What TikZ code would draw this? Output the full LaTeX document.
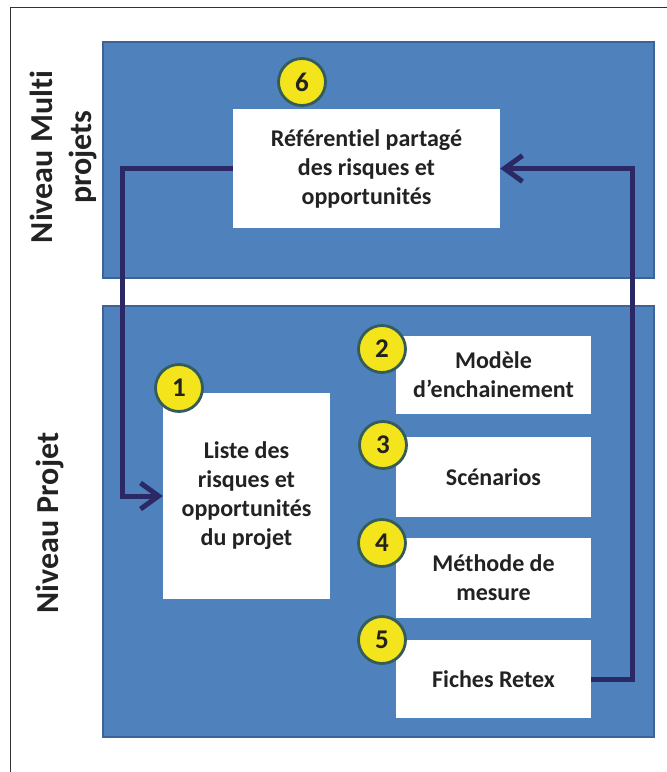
\documentclass[tikz,border=0pt]{standalone}
\usepackage{fontspec}
\setmainfont{Carlito}[Ligatures=NoCommon]
\usetikzlibrary{arrows.meta}
\definecolor{blueA}{HTML}{4F81BD}
\definecolor{blueB}{HTML}{3C6498}
\definecolor{arrC}{HTML}{2B2866}
\definecolor{yelC}{HTML}{F4E41C}
\definecolor{ringC}{HTML}{345C58}
\definecolor{txtC}{HTML}{222222}
\tikzset{
  panel/.style={fill=blueA, draw=blueB, line width=1.5pt},
  wbox/.style={fill=white, draw=none, inner sep=0pt, align=center, text=txtC,
    font=\bfseries\fontsize{24}{29}\selectfont},
  badge/.style={circle, fill=yelC, draw=ringC, line width=2.8pt, minimum size=47pt,
    inner sep=0pt, text=txtC, font=\bfseries\fontsize{27}{27}\selectfont},
  levlabel/.style={rotate=90, align=center, text=txtC, font=\bfseries\fontsize{32}{39}\selectfont},
  conn/.style={draw=arrC, line width=5pt, -{Straight Barb[length=18pt,width=26pt]}}
}
\begin{document}
\begin{tikzpicture}[x=1pt,y=-1pt]
\useasboundingbox (0,0) rectangle (667,772);
\fill[white] (0,0) rectangle (667,772);
% outer frame (only left and top edges visible)
\draw[draw=black!80, line width=1.3pt] (10.5,772) -- (10.5,7.5) -- (667,7.5);
% panels
\draw[panel] (103,42) rectangle (654,278);
\draw[panel] (103,306) rectangle (654,737);
% level labels
\node[levlabel] (lm) at (63,157) {Niveau Multi\\projets};
\node[levlabel] (lp) at (50,523) {Niveau Projet};
% boxes
\node[wbox, minimum width=267pt, minimum height=119pt] (b6) at (366.5,168.5) {Référentiel partagé\\des risques et\\opportunités};
\node[wbox, minimum width=167pt, minimum height=206pt] (b1) at (246.5,496) {Liste des\\risques et\\opportunités\\du projet};
\node[wbox, minimum width=195pt, minimum height=78pt] (b2) at (493.5,375) {Modèle\\d’enchainement};
\node[wbox, minimum width=195pt, minimum height=80pt] (b3) at (493.5,477) {Scénarios};
\node[wbox, minimum width=195pt, minimum height=80pt] (b4) at (493.5,578) {Méthode de\\mesure};
\node[wbox, minimum width=195pt, minimum height=78pt] (b5) at (493.5,679) {Fiches Retex};
% badges
\node[badge] (n6) at (302,82) {6};
\node[badge] (n1) at (179,388) {1};
\node[badge] (n2) at (382,349) {2};
\node[badge] (n3) at (383,445) {3};
\node[badge] (n4) at (382,543) {4};
\node[badge] (n5) at (382,640) {5};
% connectors
\coordinate (cl) at (122,496);
\coordinate (cr) at (632,168.5);
\draw[conn] (b6.west) -| (cl) -- (b1.west);
\draw[conn] (b5.east) -| (cr) -- (b6.east);
\end{tikzpicture}
\end{document}
